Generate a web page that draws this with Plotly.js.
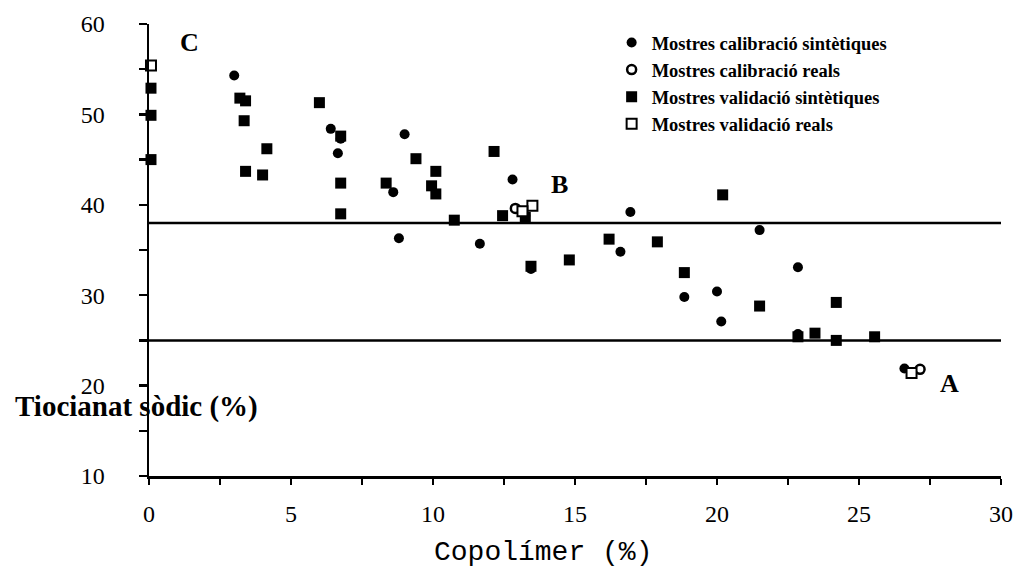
<!DOCTYPE html>
<html>
<head>
<meta charset="utf-8">
<script src="https://cdn.plot.ly/plotly-3.0.1.min.js"></script>
<style>html,body{margin:0;padding:0;background:#fff;}#chart{width:1013px;height:574px;}</style>
</head>
<body>
<div id="chart"></div>
<script>
// Series names
const seriesNames = [
  "Mostres calibració sintètiques",
  "Mostres calibració reals",
  "Mostres validació sintètiques",
  "Mostres validació reals"
];
// Calibració sintètiques
const calSintX = [3.0, 6.4, 6.75, 6.65, 9.0, 8.6, 8.8, 11.65, 13.45, 16.6, 16.95, 18.85, 12.8, 13.25, 21.5, 22.85, 20.0, 20.15, 22.85, 26.6];
const calSintY = [54.3, 48.4, 47.3, 45.7, 47.8, 41.4, 36.3, 35.7, 32.9, 34.8, 39.2, 29.8, 42.8, 38.8, 37.2, 33.1, 30.4, 27.1, 25.7, 21.9];
// Calibració reals
const calRealX = [12.9, 27.15];
const calRealY = [39.6, 21.8];
// Validació sintètiques
const valSintX = [0.07, 0.07, 0.07, 3.2, 3.4, 3.35, 4.15, 3.4, 4.0, 6.0, 6.75, 6.75, 6.75, 8.35, 9.4, 10.1, 9.95, 10.1, 12.15, 10.75, 12.45, 13.25, 13.45, 14.8, 16.2, 17.9, 18.85, 20.2, 21.5, 24.2, 22.85, 23.45, 24.2, 25.55];
const valSintY = [52.9, 49.9, 45.0, 51.8, 51.5, 49.3, 46.2, 43.7, 43.3, 51.3, 47.6, 42.4, 39.0, 42.4, 45.1, 43.7, 42.1, 41.2, 45.9, 38.3, 38.8, 38.6, 33.2, 33.9, 36.2, 35.9, 32.5, 41.1, 28.8, 29.2, 25.4, 25.8, 25.0, 25.4];
// Validació reals
const valRealX = [0.07, 13.5, 13.15, 26.85];
const valRealY = [55.4, 39.9, 39.3, 21.4];
// Threshold lines
const thresholds = [38, 25];
// Region labels
const regionLabels = ["C", "B", "A"];
const regionX = [1.42, 14.45, 28.2];
const regionY = [58.0, 42.3, 20.2];
// Axis texts
const xTitle = "Copolímer (%)";
const yTitle = "Tiocianat sòdic (%)";

const serif = "Liberation Serif, Times New Roman, serif";

const traces = [
  {x: calSintX, y: calSintY, name: seriesNames[0], type: "scatter", mode: "markers",
   marker: {symbol: "circle", size: 10, color: "#000"}, cliponaxis: false},
  {x: calRealX, y: calRealY, name: seriesNames[1], type: "scatter", mode: "markers",
   marker: {symbol: "circle", size: 9, color: "#fff", line: {color: "#000", width: 2.5}}, cliponaxis: false},
  {x: valSintX, y: valSintY, name: seriesNames[2], type: "scatter", mode: "markers",
   marker: {symbol: "square", size: 11, color: "#000"}, cliponaxis: false},
  {x: valRealX, y: valRealY, name: seriesNames[3], type: "scatter", mode: "markers",
   marker: {symbol: "square", size: 10, color: "#fff", line: {color: "#000", width: 2}}, cliponaxis: false}
];

const shapes = thresholds.map(v => ({
  type: "line", xref: "paper", x0: 0, x1: 1, yref: "y", y0: v, y1: v,
  line: {color: "#000", width: 2.5}
}));

const annotations = regionLabels.map((t, i) => ({
  text: "<b>" + t + "</b>", x: regionX[i], y: regionY[i], xref: "x", yref: "y",
  showarrow: false, font: {family: serif, size: 26, color: "#000"}
}));
annotations.push({
  text: "<b>" + yTitle + "</b>", xref: "paper", x: -0.160, xanchor: "left",
  yref: "y", y: 17.7, yanchor: "middle", showarrow: false,
  font: {family: serif, size: 29, color: "#000"}
});
annotations.push({
  text: xTitle, xref: "paper", x: 0.463, xanchor: "center",
  yref: "paper", y: -0.170, yanchor: "middle", showarrow: false,
  font: {family: "Liberation Mono, Courier New, monospace", size: 28, color: "#000"}
});

const layout = {
  width: 1013, height: 574,
  margin: {l: 149, r: 12, t: 24, b: 98},
  paper_bgcolor: "#fff", plot_bgcolor: "#fff",
  showlegend: true,
  legend: {x: 0.543, xanchor: "left", y: 1.0, yanchor: "top", bgcolor: "rgba(0,0,0,0)",
           font: {family: serif, size: 18.5, color: "#000", weight: "bold"},
           itemwidth: 30},
  xaxis: {
    range: [0, 30], dtick: 5, tick0: 0, showgrid: false, zeroline: false,
    showline: true, linecolor: "#000", linewidth: 2.5,
    ticks: "outside", ticklen: 6, tickwidth: 2.5, tickcolor: "#000",
    minor: {dtick: 2.5, ticks: "outside", ticklen: 6, tickwidth: 2.5, tickcolor: "#000", showgrid: false},
    tickfont: {family: serif, size: 24, color: "#000"}, ticklabelstandoff: 9,
    ticklabeloverflow: "allow"
  },
  yaxis: {
    range: [10, 60], dtick: 10, tick0: 10, showgrid: false, zeroline: false,
    showline: true, linecolor: "#000", linewidth: 2.5,
    ticks: "outside", ticklen: 8, tickwidth: 2.5, tickcolor: "#000",
    minor: {dtick: 5, ticks: "outside", ticklen: 8, tickwidth: 2.5, tickcolor: "#000", showgrid: false},
    tickfont: {family: serif, size: 24, color: "#000"}, ticklabelstandoff: 29,
    ticklabeloverflow: "allow"
  },
  shapes: shapes,
  annotations: annotations
};

Plotly.newPlot("chart", traces, layout, {displayModeBar: false, staticPlot: true});
</script>
</body>
</html>
